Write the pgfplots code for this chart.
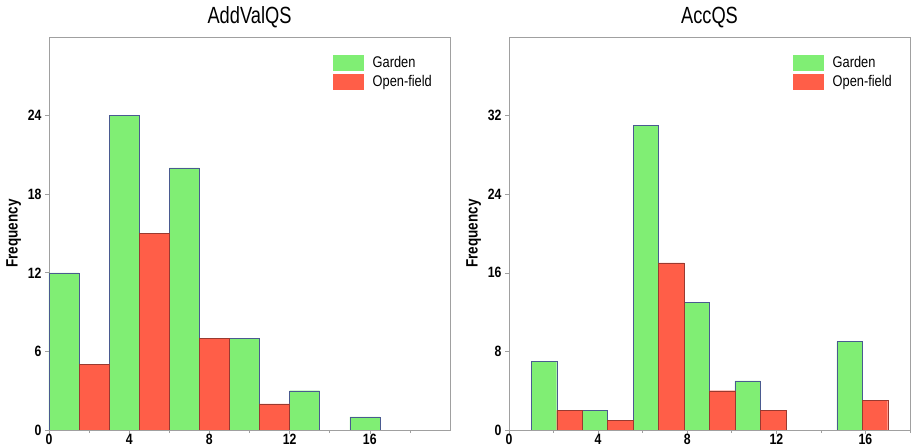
\documentclass[border=0pt]{standalone}
\usepackage{pgfplots}
\pgfplotsset{compat=1.18}
\usepackage{fontspec}
\setmainfont{Liberation Sans}[FakeStretch=0.82]
\newfontfamily\legfont{Liberation Sans}[FakeStretch=0.83]
\newfontfamily\titfont{Liberation Sans}[FakeStretch=0.78]
\definecolor{gfill}{HTML}{80EE74}
\definecolor{rfill}{HTML}{FF5E48}
\definecolor{gdraw}{HTML}{4A5A90}
\definecolor{rdraw}{HTML}{9A3A30}
\definecolor{frame}{HTML}{A0A0A0}
\pgfplotsset{
 myax/.style={
  scale only axis, width=401bp, height=393bp,
  axis line style={frame, line width=0.8pt},
  tick style={frame, line width=0.6pt},
  tick pos=left, tick align=outside,
  major tick length=4bp, minor tick length=3bp,
  ymin=0, xmin=0,
  xtick={0,4,8,12,16}, minor xtick={2,6,10,14,18},
  ticklabel style={font=\bfseries\fontsize{15}{15}\selectfont},
  xticklabel style={yshift=3bp},
  /pgf/number format/assume math mode=true,
  ylabel={\bfseries Frequency}, ylabel style={font=\fontsize{16.5}{16.5}\selectfont},
  title style={font=\titfont\fontsize{23.5}{23.5}\selectfont},
  ybar,
  legend style={draw=none, fill=none, at={(1,1)}, anchor=north east, xshift=-13bp, yshift=-15bp,
    font=\legfont\fontsize{15.5}{15.5}\selectfont, row sep=2.5bp},
  legend image code/.code={\fill[##1,draw=none] (0bp,-8bp) rectangle (31bp,8bp); \path[draw=none,fill=none] (31bp,0bp) -- (38bp,0bp);},
  legend cell align=left,
 }
}
\begin{document}
\begin{tikzpicture}
\begin{axis}[myax, title={AddValQS}, xmax=20, ymax=30, ytick={0,6,12,18,24}]
\addplot[fill=gfill, draw=gdraw, bar width=1.5, bar shift=0pt] coordinates {(0.75,12) (3.75,24) (6.75,20) (9.75,7) (12.75,3) (15.75,1)};
\addplot[fill=rfill, draw=rdraw, bar width=1.5, bar shift=0pt] coordinates {(2.25,5) (5.25,15) (8.25,7) (11.25,2)};
\legend{Garden,Open-field}
\end{axis}
\begin{axis}[myax, at={(460bp,0)}, title={AccQS}, xmax=18, ymax=40, ytick={0,8,16,24,32}]
\addplot[fill=gfill, draw=gdraw, bar width=1.142857, bar shift=0pt] coordinates {(1.571429,7) (3.857143,2) (6.142857,31) (8.428571,13) (10.714286,5) (15.285714,9)};
\addplot[fill=rfill, draw=rdraw, bar width=1.142857, bar shift=0pt] coordinates {(2.714286,2) (5.0,1) (7.285714,17) (9.571429,4) (11.857143,2) (16.428571,3)};
\legend{Garden,Open-field}
\end{axis}
\pgfresetboundingbox
\path (-49bp,-18bp) rectangle (862bp,430bp);
\end{tikzpicture}
\end{document}
